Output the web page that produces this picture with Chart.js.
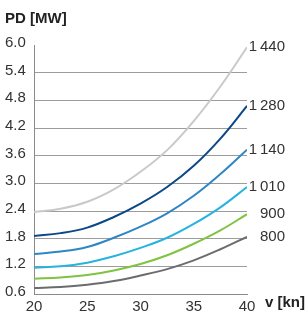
<!DOCTYPE html>
<html>
<head>
<meta charset="utf-8">
<script src="https://cdn.jsdelivr.net/npm/chart.js@4/dist/chart.umd.min.js"></script>
<style>
  html, body { margin: 0; padding: 0; background: #fff; }
  #wrap { width: 306px; height: 316px; }
</style>
</head>
<body>
<div id="wrap"><canvas id="myChart" width="306" height="316"></canvas></div>
<script>
/* data */
const speeds = [20, 22.5, 25, 27.5, 30, 32.5, 35, 37.5, 40];
const pd1440 = [2.38, 2.45, 2.6, 2.87, 3.25, 3.72, 4.35, 5.1, 5.95];
const pd1280 = [1.86, 1.92, 2.04, 2.27, 2.56, 2.92, 3.38, 3.97, 4.68];
const pd1140 = [1.47, 1.52, 1.62, 1.82, 2.06, 2.35, 2.73, 3.2, 3.73];
const pd1010 = [1.17, 1.2, 1.28, 1.42, 1.6, 1.82, 2.12, 2.48, 2.92];
const pd900 = [0.93, 0.96, 1.01, 1.11, 1.25, 1.44, 1.69, 1.98, 2.33];
const pd800 = [0.73, 0.75, 0.8, 0.88, 1.0, 1.14, 1.33, 1.57, 1.84];
const seriesLabels = ['1\u2009440', '1\u2009280', '1\u2009140', '1\u2009010', '900', '800'];
const xTicks = [20, 25, 30, 35, 40];
const yTicks = [0.6, 1.2, 1.8, 2.4, 3.0, 3.6, 4.2, 4.8, 5.4, 6.0];

const seriesValues = [pd1440, pd1280, pd1140, pd1010, pd900, pd800];
const colors = ['#c9c9c9', '#0b4886', '#2f86c4', '#26b3de', '#80c342', '#6c6c70'];
const font = 'Liberation Sans, Arial, Helvetica, sans-serif';

function toPoints(values) {
  return values.map(function (v, i) {
    return { x: speeds[i], y: v };
  });
}

// end labels + axis titles
const labelsPlugin = {
  id: 'labels',
  afterDraw: function (chart) {
    const c = chart.ctx;
    c.save();
    c.fillStyle = '#333';
    c.font = '15px ' + font;
    c.textAlign = 'right';
    c.textBaseline = 'middle';
    chart.data.datasets.forEach(function (ds, i) {
      const pts = chart.getDatasetMeta(i).data;
      const last = pts[pts.length - 1];
      c.fillText(seriesLabels[i], 285, last.y);
    });
    c.fillStyle = '#222';
    c.font = 'bold 15px ' + font;
    c.textAlign = 'left';
    c.fillText('PD [MW]', 5, 19);
    c.fillText('v [kn]', 265, 303);
    c.restore();
  },
};

const ctx = document.getElementById('myChart').getContext('2d');

const chart = new Chart(ctx, {
  type: 'line',
  data: {
    datasets: seriesValues.map(function (vals, i) {
      return {
        label: seriesLabels[i],
        data: toPoints(vals),
        borderColor: colors[i],
        borderWidth: 2,
        pointRadius: 0,
        fill: false,
        tension: 0.4,
      };
    }),
  },
  options: {
    responsive: false,
    animation: false,
    layout: {
      padding: { left: 5, right: 59, top: 45, bottom: 0 },
    },
    plugins: {
      legend: { display: false },
      tooltip: { enabled: false },
    },
    scales: {
      x: {
        type: 'linear',
        min: xTicks[0],
        max: xTicks[xTicks.length - 1],
        afterFit: function (scale) {
          scale.height = 22;
        },
        afterBuildTicks: function (scale) {
          scale.ticks = xTicks.map(function (v) { return { value: v }; });
        },
        grid: { display: false, drawTicks: false },
        border: { display: true, color: '#8a8a8a', width: 1 },
        ticks: {
          padding: 4,
          color: '#333',
          font: { family: font, size: 15 },
        },
      },
      y: {
        min: yTicks[0],
        max: yTicks[yTicks.length - 1],
        afterFit: function (scale) {
          scale.width = 29;
        },
        afterBuildTicks: function (scale) {
          scale.ticks = yTicks.map(function (v) { return { value: v }; });
        },
        grid: {
          drawTicks: false,
          color: function (c) {
            if (c.tick && Math.abs(c.tick.value - 6) < 0.01) return 'rgba(0,0,0,0)';
            return '#9c9c9c';
          },
        },
        border: { display: true, color: '#8a8a8a', width: 1 },
        ticks: {
          crossAlign: 'far',
          padding: 4,
          labelOffset: -2,
          color: '#333',
          font: { family: font, size: 15 },
          callback: function (v) {
            return Number(v).toFixed(1);
          },
        },
      },
    },
  },
  plugins: [labelsPlugin],
});
</script>
</body>
</html>
